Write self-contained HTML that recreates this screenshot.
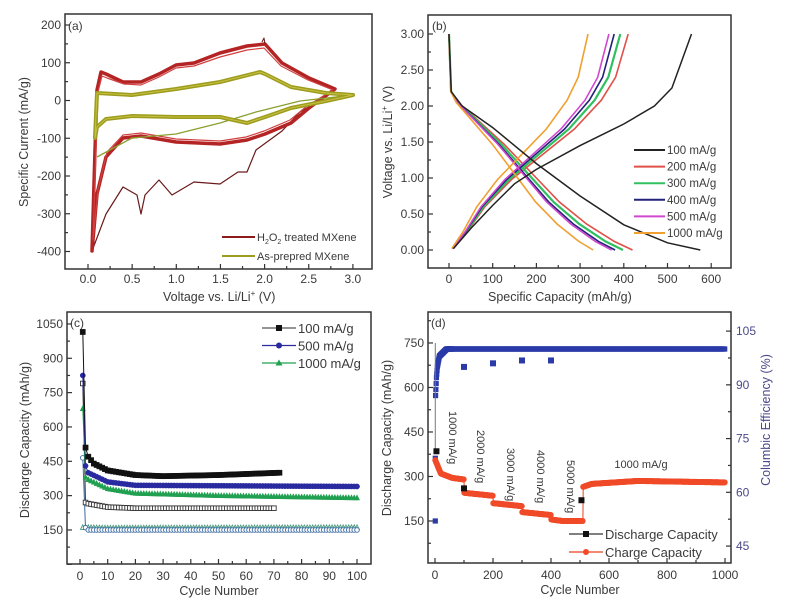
<!DOCTYPE html>
<html><head><meta charset="utf-8">
<style>
html,body{margin:0;padding:0;background:#fff;}
svg{display:block;font-family:"Liberation Sans",Arial,sans-serif;}
text{fill:#3a3a3a;}
</style></head>
<body>
<svg id="s" width="792" height="608" viewBox="0 0 792 608" xmlns="http://www.w3.org/2000/svg">
<rect width="792" height="608" fill="#fff"/>
<!-- Panel a -->
<g id="pa">
<rect x="65" y="14" width="307" height="255" fill="none" stroke="#333" stroke-width="1.5"/>
<g fill="none" stroke-linejoin="round">
<path d="M92,251 L106,214 L123,187 L137,195 L141,214 L145,195 L159,180 L172,195 L194,182 L220,184 L238,172 L247,172 L256,150 L282,131 L300,112 L326,97 L335,89" stroke="#6a1a1a" stroke-width="1.2"/>
<path d="M92,251 L95,150 L97,90 L101,72 L106,74 L123,82 L141,82 L159,74 L176,65 L194,63 L220,53 L247,46 L265,44 L282,63 L309,78 L335,89 L309,108 L291,123 L265,134 L247,140 L220,144 L176,142 L141,136 L123,138 L106,157 L97,194 Z" stroke="#b52424" stroke-width="3.5"/>
<path d="M93,240 L96,150 L98,92 L102,76 L107,78 L124,84 L141,85 L159,77 L176,68 L194,66 L220,57 L247,50 L264,48 L281,66 L308,80 L333,90 L307,106 L290,120 L264,131 L246,137 L220,141 L176,139 L141,133 L123,135 L107,152 L98,190 Z" stroke="#d04040" stroke-width="1.2"/>
<path d="M265,44 L264,38 L262,42" stroke="#6a1a1a" stroke-width="1"/>
<path d="M97,157 L132,138 L176,134 L220,123 L256,112 L300,101 L353,95" stroke="#8aa030" stroke-width="1.3"/>
<path d="M95,138 L97,93 L132,95 L176,89 L220,82 L260,72 L265,74 L291,87 L326,93 L353,95 L326,101 L291,108 L265,117 L247,123 L220,117 L176,117 L132,116 L106,119 L97,127 Z" stroke="#9c9c1e" stroke-width="4"/>
<path d="M95,138 L97,93 L132,95 L176,89 L220,82 L260,72 L265,74 L291,87 L326,93 L353,95 L326,101 L291,108 L265,117 L247,123 L220,117 L176,117 L132,116 L106,119 L97,127 Z" stroke="#c8c040" stroke-width="1"/>
</g>
<line x1="222" y1="237" x2="255" y2="237" stroke="#8a1c1c" stroke-width="2"/>
<line x1="222" y1="256" x2="255" y2="256" stroke="#9c9c1e" stroke-width="2"/>
<text x="257" y="241" font-size="11">H<tspan font-size="7" dy="3">2</tspan><tspan dy="-3">O</tspan><tspan font-size="7" dy="3">2</tspan><tspan dy="-3"> treated MXene</tspan></text>
<text x="257" y="260" font-size="11">As-prepred MXene</text>
<text x="68" y="30" font-size="12">(a)</text>
<text x="163" y="301" font-size="12.5">Voltage vs. Li/Li<tspan font-size="8" dy="-5">+</tspan><tspan dy="5"> (V)</tspan></text>
<text transform="translate(28,142) rotate(-90)" text-anchor="middle" font-size="12.5">Specific Current (mA/g)</text>
</g>
<!-- Panel b -->
<rect x="428" y="15" width="303" height="253" fill="none" stroke="#333" stroke-width="1.5"/>
<text x="432" y="30" font-size="12">(b)</text>
<text x="488" y="301" font-size="12.5">Specific Capacity (mAh/g)</text>
<text transform="translate(392,142) rotate(-90)" text-anchor="middle" font-size="12.5">Voltage vs. Li/Li<tspan font-size="8" dy="-5">+</tspan><tspan dy="5"> (V)</tspan></text>
<!-- Panel c -->
<rect x="67" y="312" width="304" height="252" fill="none" stroke="#333" stroke-width="1.5"/>
<text x="70" y="327" font-size="12">(c)</text>
<text x="219" y="595" text-anchor="middle" font-size="12.5">Cycle Number</text>
<text transform="translate(29,440) rotate(-90)" text-anchor="middle" font-size="12.5">Discharge Capacity (mAh/g)</text>
<!-- Panel d -->
<rect x="428" y="312" width="303" height="251" fill="none" stroke="#333" stroke-width="1.5"/>
<text x="431" y="327" font-size="12">(d)</text>
<text x="580" y="594" text-anchor="middle" font-size="12.5">Cycle Number</text>
<text transform="translate(391,438) rotate(-90)" text-anchor="middle" font-size="12.5">Discharge Capacity (mAh/g)</text>
<text transform="translate(770,420) rotate(-90)" text-anchor="middle" font-size="12.5" style="fill:#4a4a8a">Columbic Efficiency (%)</text>
<g id="dyn"></g>
</svg>
<script>
var NS="http://www.w3.org/2000/svg",G=document.getElementById("dyn");
function el(t,a,txt){var e=document.createElementNS(NS,t);for(var k in a)e.setAttribute(k,a[k]);if(txt!==undefined)e.textContent=txt;G.appendChild(e);return e;}
function tick(x1,y1,x2,y2){el("line",{x1:x1,y1:y1,x2:x2,y2:y2,stroke:"#333","stroke-width":1.2});}
function txt(x,y,s,anc,sz,fill){var a={x:x,y:y,"font-size":sz||12,"text-anchor":anc||"middle"};if(fill)a.style="fill:"+fill;el("text",a,s);}
var i,v,x,y;
for(v=-400;v<=200;v+=50){y=100.5-0.3775*v;tick(65,y,v%100==0?70:68,y);if(v%100==0)txt(61,y+4,String(v),"end");}
for(v=0;v<=3.01;v+=0.25){x=88+88.3*v;var maj=Math.abs(v*2-Math.round(v*2))<1e-6;tick(x,269,x,maj?264:266);if(maj)txt(x,283,v.toFixed(1));}
function Xb(c){return 449+0.437*c;}function Yb(v){return 250-72*v;}
for(v=0;v<=3.01;v+=0.25){y=Yb(v);var mj=Math.abs(v*2-Math.round(v*2))<1e-6;tick(428,y,mj?433:431,y);if(mj)txt(424,y+4,v.toFixed(2),"end");}
for(v=0;v<=600;v+=50){x=Xb(v);tick(x,268,x,v%100==0?263:265);if(v%100==0)txt(x,283,String(v));}
var dn=[[0,3],[0.012,2.2],[0.05,2.05],[0.15,1.82],[0.3,1.47],[0.45,1.07],[0.6,0.67],[0.75,0.36],[0.9,0.12],[1,0]];
var ch=[[0.02,0.02],[0.1,0.25],[0.2,0.6],[0.35,0.98],[0.5,1.28],[0.7,1.68],[0.85,2.08],[0.93,2.4],[1,3.0]];
var ch100=[[10,0.02],[50,0.3],[100,0.62],[150,0.92],[200,1.12],[300,1.45],[400,1.75],[470,2.0],[510,2.25],[555,3.0]];
var dn100=[[0,3],[5,2.2],[30,2.0],[100,1.7],[200,1.2],[300,0.75],[400,0.35],[500,0.1],[575,0]];
function cpath(pts){var d="";for(var j=0;j<pts.length;j++)d+=(j?"L":"M")+Xb(pts[j][0]).toFixed(1)+","+Yb(pts[j][1]).toFixed(1);return d;}
var rates=[["#e05048",420,410],["#30c060",398,392],["#22227a",380,378],["#d048d0",372,366],["#f0a030",330,318]];
rates.forEach(function(r,k){
 var d=dn.map(function(p){return [p[0]*r[1],p[1]];});var c=ch.map(function(p){return [p[0]*r[2],p[1]];});
 el("path",{d:cpath(d),fill:"none",stroke:r[0],"stroke-width":k==1?2.2:1.6});
 el("path",{d:cpath(c),fill:"none",stroke:r[0],"stroke-width":k==1?2.2:1.6});
});
el("path",{d:cpath(dn100),fill:"none",stroke:"#222","stroke-width":1.5});
el("path",{d:cpath(ch100),fill:"none",stroke:"#222","stroke-width":1.5});
var lb=[["#222","100 mA/g"],["#e05048","200 mA/g"],["#30c060","300 mA/g"],["#22227a","400 mA/g"],["#d048d0","500 mA/g"],["#f0a030","1000 mA/g"]];
lb.forEach(function(l,k){var yy=150+16.6*k;el("line",{x1:634,y1:yy,x2:665,y2:yy,stroke:l[0],"stroke-width":2});txt(667,yy+4,l[1],"start",11.5);});
function Xc(n){return 80+2.77*n;}function Yc(c){return 564.3-0.2289*c;}
for(v=0;v<=1050;v+=75){y=Yc(v);var m=v%150==0;tick(67,y,m?72:70,y);if(m&&v>0)txt(63,y+4,String(v),"end");}
for(v=0;v<=100;v+=5){x=Xc(v);tick(x,564,x,v%10==0?559:561);if(v%10==0)txt(x,580,String(v));}
function interp(pts,n){for(var j=1;j<pts.length;j++){if(n<=pts[j][0]){var a=pts[j-1],b=pts[j];return a[1]+(b[1]-a[1])*(n-a[0])/(b[0]-a[0]);}}return pts[pts.length-1][1];}
function series(pts,nmax,col,shape,open,sz){
 var d="";for(var n=1;n<=nmax;n++){d+=(n>1?"L":"M")+Xc(n).toFixed(1)+","+Yc(interp(pts,n)).toFixed(1);}
 el("path",{d:d,fill:"none",stroke:col,"stroke-width":1});
 for(n=1;n<=nmax;n++){var cx=Xc(n),cy=Yc(interp(pts,n)),s=sz||2.6;
  var f=open?"#fff":col;
  if(shape=="s")el("rect",{x:cx-s,y:cy-s,width:2*s,height:2*s,fill:f,stroke:col,"stroke-width":open?0.9:0.5});
  else if(shape=="c")el("circle",{cx:cx,cy:cy,r:s,fill:f,stroke:col,"stroke-width":open?0.9:0.5});
  else el("polygon",{points:cx+","+(cy-s-0.5)+" "+(cx-s)+","+(cy+s-0.5)+" "+(cx+s)+","+(cy+s-0.5),fill:f,stroke:col,"stroke-width":open?0.9:0.5});
 }}
series([[1,160],[2,160],[10,158],[100,160]],100,"#4a9a80","t",true,2.3);
series([[1,465],[2,160],[3,150],[100,150]],100,"#3a6aa0","c",true,2.3);
series([[1,790],[2,270],[3,265],[10,250],[20,245],[70,245]],70,"#333","s",true,2.3);
series([[1,680],[2,380],[3,370],[10,330],[20,310],[50,300],[100,290]],100,"#20a050","t",false);
series([[1,825],[2,430],[3,400],[10,360],[20,345],[100,340]],100,"#2a2aa0","c",false);
series([[1,1015],[2,510],[3,470],[5,440],[10,410],[20,390],[30,385],[50,390],[72,400]],72,"#111","s",false);
var lc=[["#111","100 mA/g","s"],["#2a2aa0","500 mA/g","c"],["#20a050","1000 mA/g","t"]];
lc.forEach(function(l,k){var yy=328+17.5*k;el("line",{x1:262,y1:yy,x2:296,y2:yy,stroke:l[0]=="#111"?"#555":l[0],"stroke-width":1.2});
 if(l[2]=="s")el("rect",{x:276,y:yy-3,width:6,height:6,fill:l[0]});else if(l[2]=="c")el("circle",{cx:279,cy:yy,r:3,fill:l[0]});else el("polygon",{points:"279,"+(yy-3.5)+" 275.5,"+(yy+2.5)+" 282.5,"+(yy+2.5),fill:l[0]});
 txt(298,yy+5,l[1],"start",13);});
function Xd(n){return 435+0.29*n;}function YL(c){return 565.5-0.2967*c;}function YR(e){return 707.3-3.583*e;}
for(v=75;v<=825;v+=75){y=YL(v);if(y<312)continue;var mm=v%150==0;tick(428,y,mm?433:431,y);if(mm)txt(424,y+4,String(v),"end");}
for(v=45;v<=112.5;v+=7.5){y=YR(v);if(y<312)continue;var mr=v%15==0;tick(731,y,mr?726:728,y);if(mr)txt(736,y+4,String(v),"start",12,"#4a4a8a");}
for(v=0;v<=1000;v+=100){x=Xd(v);tick(x,563,x,v%200==0?558:560);if(v%200==0)txt(x,579,String(v));}
var eff=[[0,52],[2,87],[5,92],[8,95],[15,98],[40,100],[1000,100]];
for(var n=1;n<=1000;n+=1){var e=interp(eff,n);if(n==500)e=100.6;var cx=Xd(n),cy=YR(e);
 if(n<60||n%3==0)el("rect",{x:cx-2.6,y:cy-2.6,width:5.2,height:5.2,fill:"#2a3aa8"});}
el("rect",{x:Xd(1)-2.6,y:YR(52)-2.6,width:5.2,height:5.2,fill:"#2a3aa8"});
[[100,95],[200,96],[300,96.8],[400,96.8]].forEach(function(p){el("rect",{x:Xd(p[0])-3,y:YR(p[1])-3,width:6,height:6,fill:"#2a3aa8"});});
var segs=[[[1,355],[20,310],[60,295],[100,290]],[[101,245],[200,235]],[[201,210],[300,200]],[[301,180],[400,170]],[[401,155],[440,150],[510,150]],[[511,265],[540,275],[700,285],[1000,280]]];
var pd="";segs.forEach(function(sg,k){for(var n=sg[0][0];n<=sg[sg.length-1][0];n++){pd+=(n==1?"M":"L")+Xd(n).toFixed(1)+","+YL(interp(sg,n)).toFixed(1);}});
el("path",{d:pd,fill:"none",stroke:"#e84020","stroke-width":1});
segs.forEach(function(sg){for(var n=sg[0][0];n<=sg[sg.length-1][0];n+=2){el("circle",{cx:Xd(n),cy:YL(interp(sg,n)),r:3,fill:"#f04a28"});}});
el("line",{x1:Xd(1),y1:YL(385),x2:Xd(1),y2:YL(750),stroke:"#777","stroke-width":1});
[[5,385],[100,260],[505,220]].forEach(function(p){el("rect",{x:Xd(p[0])-3,y:YL(p[1])-3,width:6,height:6,fill:"#111"});});
function vtext(x,y,s){el("text",{x:0,y:0,"font-size":11,transform:"translate("+x+","+y+") rotate(90)"},s);}
vtext(449,411,"1000 mA/g");vtext(477,430,"2000 mA/g");vtext(507,448,"3000 mA/g");vtext(537,450,"4000 mA/g");vtext(567,460,"5000 mA/g");
txt(641,468,"1000 mA/g","middle",11);
el("line",{x1:569,y1:534,x2:603,y2:534,stroke:"#333","stroke-width":1.2});el("rect",{x:583,y:531,width:6,height:6,fill:"#111"});
el("line",{x1:569,y1:552,x2:603,y2:552,stroke:"#e84020","stroke-width":1.2});el("circle",{cx:586,cy:552,r:3,fill:"#f04a28"});
txt(605,539,"Discharge Capacity","start",13);txt(605,557,"Charge Capacity","start",13);
</script>
</body></html>
